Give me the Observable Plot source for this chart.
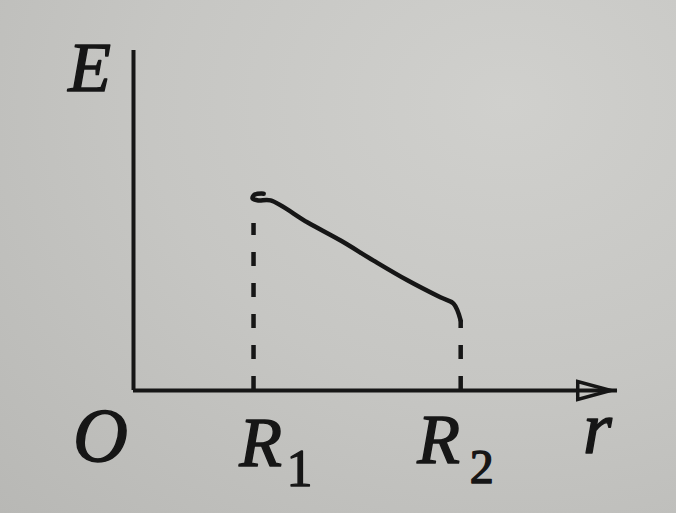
<!DOCTYPE html>
<html><head><meta charset="utf-8">
<script src="https://cdn.jsdelivr.net/npm/d3@7"></script>
<script src="https://cdn.jsdelivr.net/npm/@observablehq/plot@0.6"></script>
<style>
html,body{margin:0;padding:0;width:676px;height:513px;overflow:hidden;
background:radial-gradient(ellipse at 75% 20%, #d0d0cd 0%, #c6c6c3 50%, #b8b8b5 100%);}
#chart svg{display:block;background:transparent;}
#chart svg text{font-family:'Liberation Serif', serif !important;}
</style></head>
<body><div id="chart"></div>
<script>
// Data (r, E)
const R1 = 2.48, R2 = 6.76;
const curveR = [2.69, 2.50, 2.46, 2.58, 2.83, 3.60, 4.28, 4.96, 5.66, 6.34, 6.61, 6.76];
const curveE = [5.79, 5.76, 5.65, 5.59, 5.59, 4.94, 4.41, 3.82, 3.24, 2.74, 2.56, 2.06];
const dashR = [R1, R2];
const dashTop = [4.91, 2.06];
const axisMax = 10;
const arrowTip = 9.86;
const tickNames = ["O", "R", "R"];
const tickValues = [0, R1, R2];
const tickSubs = ["", "1", "2"];
const yLabel = "E", xLabel = "r";

const curve = curveR.map((r, i) => ({r, E: curveE[i]}));
const dashes = dashR.map((r, i) => ({r, top: dashTop[i]}));

const ink = "#161616";
const font = "Liberation Serif";

const arrowSymbol = {
  draw(ctx, size) {
    ctx.moveTo(0, 0);
    ctx.lineTo(-33, -9);
    ctx.lineTo(-33, 9);
    ctx.closePath();
  }
};

const lab = (text, x, y, dx, dy, size, italic) =>
  Plot.text([text], {x: () => x, y: () => y, text: d => d, dx, dy,
    fontSize: size, fontFamily: font, fontStyle: italic ? "italic" : "normal",
    lineAnchor: "bottom", textAnchor: "middle", fill: ink, stroke: ink, strokeWidth: 1.4});

const plot = Plot.plot({
  width: 676, height: 513,
  marginLeft: 133, marginRight: 59, marginTop: 50, marginBottom: 123,
  x: {domain: [0, axisMax], axis: null},
  y: {domain: [0, axisMax], axis: null},
  style: {background: "transparent", fontFamily: font},
  marks: [
    Plot.ruleX([0], {y1: 0, y2: axisMax, stroke: ink, strokeWidth: 4}),
    Plot.ruleY([0], {x1: 0, x2: axisMax, stroke: ink, strokeWidth: 4}),
    Plot.dot([arrowTip], {x: d => d, y: () => 0, symbol: arrowSymbol, r: 5, stroke: ink, fill: "none", strokeWidth: 3.5}),
    Plot.ruleX(dashes, {x: "r", y1: 0, y2: "top", stroke: ink, strokeWidth: 4.5, strokeDasharray: "14,17"}),
    Plot.line(curve, {x: "r", y: "E", curve: "catmull-rom", stroke: ink, strokeWidth: 4.5, strokeLinecap: "round"}),
    lab(yLabel, 0, 0, -44, -300, 70, true),
    lab(tickNames[0], tickValues[0], 0, -33, 70, 76, true),
    lab(tickNames[1], tickValues[1], 0, 7, 75, 70, true),
    lab(tickSubs[1], tickValues[1], 0, 46, 95, 52, false),
    lab(tickNames[2], tickValues[2], 0, -22, 72, 70, true),
    lab(tickSubs[2], tickValues[2], 0, 21, 92, 48, false),
    lab(xLabel, axisMax, 0, -20, 62, 74, true)
  ]
});
document.getElementById("chart").appendChild(plot);
</script></body></html>
